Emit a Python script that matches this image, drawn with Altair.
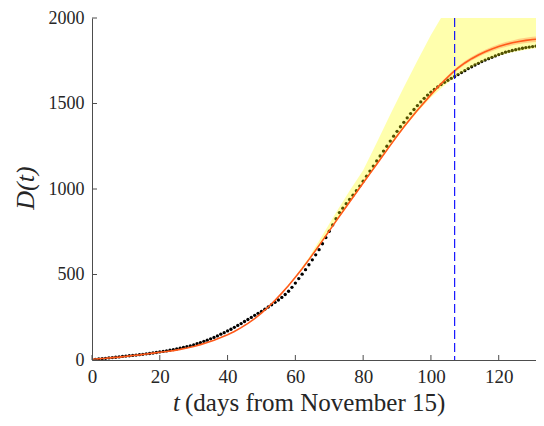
import altair as alt
import pandas as pd

# Observed cumulative deaths D(t), one point per day (t = 0..132)
days = list(range(0, 133))
deaths = [
    2, 4, 6, 8, 10, 12, 14, 16, 18, 21,
    23, 25, 27, 29, 31, 33, 36, 38, 41, 44,
    47, 50, 53, 57, 61, 65, 69, 74, 78, 83,
    88, 95, 102, 109, 116, 124, 132, 141, 151, 160,
    170, 180, 191, 202, 213, 225, 237, 249, 261, 273,
    284, 297, 310, 323, 337, 351, 366, 383, 402, 425,
    450, 476, 502, 528, 557, 586, 615, 645, 680, 716,
    753, 790, 826, 862, 888, 914, 939, 964, 990, 1017,
    1046, 1075, 1105, 1134, 1164, 1193, 1222, 1250, 1280, 1309,
    1337, 1364, 1390, 1416, 1441, 1465, 1488, 1509, 1530, 1549,
    1566, 1582, 1597, 1611, 1624, 1636, 1647, 1658, 1669, 1681,
    1692, 1704, 1715, 1725, 1735, 1745, 1754, 1762, 1770, 1778,
    1786, 1793, 1800, 1805, 1810, 1815, 1819, 1823, 1827, 1830,
    1833, 1836, 1838,
]

# Fitted curve (every 2 days)
fit_t = list(range(0, 133, 2))
fit_d = [
    4, 7, 10, 14, 17, 21, 26, 30, 35, 40,
    45, 50, 55, 62, 70, 79, 90, 103, 116, 131,
    148, 167, 189, 214, 242, 274, 310, 349, 391, 436,
    484, 534, 587, 642, 698, 755, 812, 868, 924, 980,
    1035, 1090, 1145, 1200, 1255, 1310, 1362, 1412, 1460, 1506,
    1552, 1595, 1636, 1674, 1708, 1737, 1762, 1784, 1803, 1819,
    1833, 1845, 1855, 1863, 1869, 1874, 1878,
]

# Confidence band of the fit
band_t = list(range(60, 133, 2))
band_lo = [
    481, 531, 584, 639, 695, 752, 808, 864, 920, 976,
    1031, 1085, 1140, 1195, 1250, 1304, 1356, 1405, 1453, 1498,
    1544, 1586, 1627, 1664, 1698, 1726, 1751, 1772, 1791, 1806,
    1820, 1831, 1841, 1848, 1854, 1858, 1862,
]
band_hi = [
    487, 537, 590, 645, 701, 758, 816, 872, 928, 984,
    1039, 1095, 1150, 1205, 1260, 1316, 1368, 1419, 1467, 1514,
    1560, 1604, 1645, 1684, 1718, 1748, 1773, 1796, 1815, 1832,
    1846, 1859, 1869, 1878, 1884, 1890, 1894,
]

# Prediction interval (yellow)
pi_t = [55, 60, 64, 68, 72, 76, 80, 84, 88, 92, 96, 100, 104, 108, 112, 116, 120, 124, 128, 132]
pi_lo = [368, 481, 584, 695, 808, 920, 1031, 1140, 1250, 1355, 1450, 1535, 1605, 1665, 1712, 1750, 1779, 1800, 1815, 1826]
pi_hi = [372, 490, 600, 730, 862, 990, 1110, 1270, 1435, 1595, 1750, 1900, 2035, 2165, 2290, 2410, 2530, 2650, 2760, 2870]

x_ticks = [0, 20, 40, 60, 80, 100, 120]
y_ticks = [0, 500, 1000, 1500, 2000]
cutoff_day = [107]

W, H = 444, 342
FONT = "Liberation Serif"
xs = alt.Scale(domain=[0, 131], nice=False, zero=False)
ys = alt.Scale(domain=[0, 2000], nice=False)

df_obs = pd.DataFrame({"t": days, "D": deaths})
df_fit = pd.DataFrame({"t": fit_t, "D": fit_d})
df_band = pd.DataFrame({"t": band_t, "lo": band_lo, "hi": band_hi})
df_pi = pd.DataFrame({"t": pi_t, "lo": pi_lo, "hi": pi_hi})

xaxis = alt.Axis(values=x_ticks, ticks=False, grid=False, domainColor="#4d4d4d",
                 labelFont=FONT, labelFontSize=19, labelColor="#262626", format="d",
                 labelFlush=False, labelPadding=7, title="", zindex=1)
yaxis = alt.Axis(values=y_ticks, ticks=False, grid=False, domainColor="#4d4d4d",
                 labelFont=FONT, labelFontSize=18, labelColor="#262626", format="d",
                 labelFlush=False, labelPadding=8, title="", zindex=1)

X = alt.X("t:Q", scale=xs, axis=xaxis)

dots = alt.Chart(df_obs).mark_circle(size=11, color="black", opacity=1, clip=True).encode(
    x=X,
    y=alt.Y("D:Q", scale=ys, axis=yaxis),
)

pi_area = alt.Chart(df_pi).mark_area(color="#FFFF00", opacity=0.32, clip=True).encode(
    x=X,
    y=alt.Y("lo:Q", scale=ys, axis=yaxis),
    y2="hi:Q",
)

band = alt.Chart(df_band).mark_area(color="#FF7A3C", opacity=0.35, clip=True).encode(
    x=X,
    y=alt.Y("lo:Q", scale=ys, axis=yaxis),
    y2="hi:Q",
)

fit_line = alt.Chart(df_fit).mark_line(color="#FF5A1A", strokeWidth=1.6, clip=True).encode(
    x=X,
    y=alt.Y("D:Q", scale=ys, axis=yaxis),
)

vline = alt.Chart(pd.DataFrame({"t": cutoff_day})).mark_rule(
    color="#0000FF", strokeWidth=1.1, strokeDash=[9, 4]
).encode(x=X)

xtick_marks = alt.Chart(pd.DataFrame({"t": x_ticks})).mark_rule(color="#4d4d4d", strokeWidth=1).encode(
    x=X, y=alt.value(H), y2=alt.value(H - 5)
)
ytick_marks = alt.Chart(pd.DataFrame({"D": y_ticks})).mark_rule(color="#4d4d4d", strokeWidth=1).encode(
    y=alt.Y("D:Q", scale=ys, axis=yaxis), x=alt.value(0), x2=alt.value(5)
)

xt_italic = alt.Chart(pd.DataFrame({"s": ["t"]})).mark_text(
    font=FONT, fontSize=25, fontStyle="italic", align="right", baseline="alphabetic", color="#262626"
).encode(text="s:N", x=alt.value(88), y=alt.value(393))
xt_rest = alt.Chart(pd.DataFrame({"s": ["(days from November 15)"]})).mark_text(
    font=FONT, fontSize=25, align="left", baseline="alphabetic", color="#262626"
).encode(text="s:N", x=alt.value(93), y=alt.value(393))
yt = alt.Chart(pd.DataFrame({"s": ["D(t)"]})).mark_text(
    font=FONT, fontSize=26, fontStyle="italic", align="center", baseline="middle",
    angle=270, color="#262626"
).encode(text="s:N", x=alt.value(-66), y=alt.value(170))

chart = alt.layer(
    dots, pi_area, band, fit_line, vline, xtick_marks, ytick_marks, xt_italic, xt_rest, yt
).properties(
    width=W, height=H,
    autosize=alt.AutoSizeParams(type="none"),
    padding={"left": 84, "top": 10, "right": 0, "bottom": 58},
).configure_view(stroke=None)

chart.save("out.html", embed_options={"renderer": "svg", "actions": False})
